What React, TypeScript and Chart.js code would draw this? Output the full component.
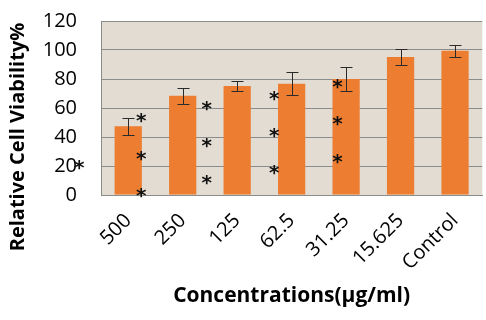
import React, { useEffect, useRef } from "react";
import { Chart, registerables } from "chart.js";

Chart.register(...registerables);

const categories = ["500", "250", "125", "62.5", "31.25", "15.625", "Control"];
const viability = [47.5, 68.5, 75.2, 76.8, 80, 95.2, 99.5];
const errors = [5.8, 5.4, 3.6, 8, 8.5, 5.8, 4.2];
// asterisk annotations: position along category axis (index units) and value
const starPos = [0.24, 0.24, 0.24, 1.44, 1.44, 1.44, 2.68, 2.68, 2.68, 3.84, 3.84, 3.84, -0.9];
const starVal = [54.5, 28.3, 2.8, 62.8, 37.2, 11.7, 69.7, 44.1, 18.6, 77.9, 52.4, 26.2, 22];
const yTicks = [0, 20, 40, 60, 80, 100, 120];
const yTitle = "Relative Cell Viability%";
const xTitle = "Concentrations(µg/ml)";

const FONT = "'Open Sans', sans-serif";

export default function App() {
  const ref = useRef<HTMLCanvasElement | null>(null);

  useEffect(() => {
    const canvas = ref.current;
    if (!canvas) return;

    const decor = {
      id: "decor",
      beforeDraw(chart: any) {
        const { ctx, chartArea } = chart;
        ctx.save();
        ctx.fillStyle = "#E2DCD2";
        ctx.fillRect(chartArea.left, chartArea.top, chartArea.right - chartArea.left, chartArea.bottom - chartArea.top);
        ctx.restore();
      },
      afterDatasetsDraw(chart: any) {
        const { ctx } = chart;
        const xs = chart.scales.x;
        const ys = chart.scales.y;
        ctx.save();
        ctx.strokeStyle = "#2a2a2a";
        ctx.lineWidth = 1;
        viability.forEach((v, i) => {
          const x = Math.round(xs.getPixelForValue(i)) + 0.5;
          const yt = Math.round(ys.getPixelForValue(v + errors[i])) + 0.5;
          const yb = Math.round(ys.getPixelForValue(v - errors[i])) + 0.5;
          ctx.beginPath();
          ctx.moveTo(x, yt);
          ctx.lineTo(x, yb);
          ctx.moveTo(x - 6, yt);
          ctx.lineTo(x + 6, yt);
          ctx.moveTo(x - 6, yb);
          ctx.lineTo(x + 6, yb);
          ctx.stroke();
        });
        ctx.restore();
      },
      afterDraw(chart: any) {
        const { ctx } = chart;
        const xs = chart.scales.x;
        const ys = chart.scales.y;
        ctx.save();
        ctx.fillStyle = "#111";
        ctx.font = `bold 20px 'DejaVu Sans', sans-serif`;
        ctx.textAlign = "center";
        ctx.textBaseline = "alphabetic";
        starPos.forEach((p, i) => {
          const x = xs.getPixelForValue(p);
          const y = ys.getPixelForValue(starVal[i]);
          ctx.fillText("*", x, y + 11);
        });
        ctx.fillStyle = "#000";
        ctx.font = `bold 20px ${FONT}`;
        ctx.textBaseline = "middle";
        ctx.save();
        ctx.translate(18, 137);
        ctx.rotate(-Math.PI / 2);
        ctx.fillText(yTitle, 0, 0);
        ctx.restore();
        ctx.font = `bold 21px ${FONT}`;
        ctx.fillText(xTitle, (chart.chartArea.left + chart.chartArea.right) / 2, 296);
        ctx.restore();
      },
    };

    const chart = new Chart(canvas, {
      type: "bar",
      data: {
        labels: categories,
        datasets: [
          {
            data: viability,
            backgroundColor: "#ED7D31",
            borderWidth: 0,
            barPercentage: 1,
            categoryPercentage: 0.5,
          },
        ],
      },
      options: {
        responsive: false,
        animation: false,
        layout: { padding: { top: 21, right: 0, left: 0, bottom: 0 } },
        plugins: { legend: { display: false }, tooltip: { enabled: false } },
        scales: {
          x: {
            grid: { display: false, drawTicks: false },
            border: { display: true, color: "#8c8c8c", width: 1 },
            ticks: {
              color: "#000",
              font: { family: FONT, size: 20 },
              minRotation: 45,
              maxRotation: 45,
              padding: 14,
              autoSkip: false,
            },
            afterFit(scale: any) {
              scale.height = 125;
            },
          },
          y: {
            min: 0,
            max: 120,
            afterBuildTicks(scale: any) {
              scale.ticks = yTicks.map((v) => ({ value: v }));
            },
            grid: { color: "#8c8c8c", drawTicks: true, tickLength: 21, tickColor: "rgba(0,0,0,0)", lineWidth: 1 },
            border: { display: true, color: "#8c8c8c", width: 1 },
            ticks: {
              color: "#000",
              font: { family: FONT, size: 20 },
              padding: 3,
              autoSkip: false,
            },
            afterFit(scale: any) {
              scale.width = 101;
            },
          },
        },
      },
      plugins: [decor],
    });

    return () => chart.destroy();
  }, []);

  return (
    <div style={{ position: "absolute", left: 0, top: 0, width: 486, height: 320, background: "#fff" }}>
      <canvas ref={ref} width={486} height={320} style={{ display: "block" }} />
    </div>
  );
}
